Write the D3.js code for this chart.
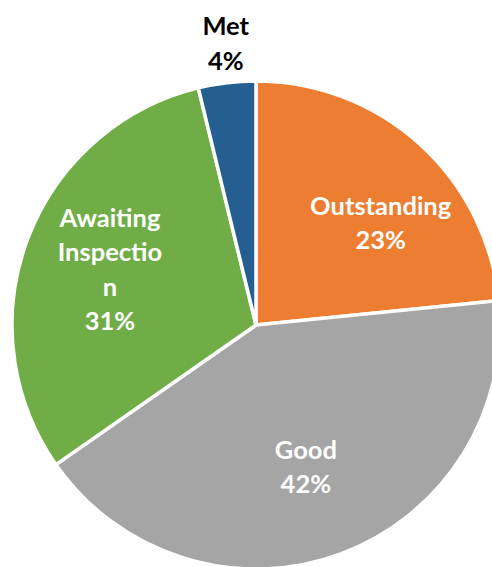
<!DOCTYPE html>
<html>
<head>
<meta charset="utf-8">
<script src="https://cdn.jsdelivr.net/npm/d3@7"></script>
<style>
  body { margin: 0; background: #fff; }
  svg { display: block; }
  text { font-family: Lato, "Open Sans", sans-serif; font-weight: bold; }
</style>
</head>
<body>
<svg width="492" height="567"></svg>
<script>
var categories = ["Outstanding", "Good", "Awaiting Inspection", "Met"];
var values = [23.4, 41.9, 30.9, 3.8];
var pctLabels = ["23%", "42%", "31%", "4%"];
var labelLines = [["Outstanding"], ["Good"], ["Awaiting", "Inspectio", "n"], ["Met"]];
var colors = ["#ED7D31", "#A5A5A5", "#70AD47", "#255E91"];

var svg = d3.select("svg"),
    cx = 256, cy = 325,
    radius = 244,
    g = svg.append("g").attr("transform", "translate(" + cx + "," + cy + ")");

var data = categories.map(function(c, i) {
  return {name: c, value: values[i], pct: pctLabels[i], lines: labelLines[i], color: colors[i]};
});

var pie = d3.pie()
    .sort(null)
    .value(function(d) { return d.value; });

var arc = d3.arc()
    .innerRadius(0)
    .outerRadius(radius);

var arcs = pie(data);

g.selectAll("path")
  .data(arcs)
  .enter().append("path")
    .attr("d", arc)
    .attr("fill", function(d) { return d.data.color; })
    .attr("stroke", "#fff")
    .attr("stroke-width", 3.5)
    .attr("stroke-linejoin", "round");

// label anchor radius (fraction of radius) and angle nudge (degrees)
var labelR = [0.66, 0.617, 0.64, 1.16];
var labelNudge = [8.6, 1, 0, 0.7];
var lineH = 34.5;

var labels = g.selectAll("text.lbl")
  .data(arcs)
  .enter().append("text")
    .attr("class", "lbl")
    .attr("text-anchor", "middle")
    .attr("font-size", 25.5)
    .attr("fill", function(d, i) { return i === 3 ? "#000" : "#fff"; })
    .attr("transform", function(d, i) {
      var a = (d.startAngle + d.endAngle) / 2 + labelNudge[i] * Math.PI / 180;
      var r = radius * labelR[i];
      return "translate(" + (Math.sin(a) * r) + "," + (-Math.cos(a) * r) + ")";
    });

labels.each(function(d) {
  var lines = d.data.lines.concat([d.data.pct]);
  var t = d3.select(this);
  var off = -(lines.length - 1) / 2 * lineH;
  lines.forEach(function(l, j) {
    t.append("tspan")
      .attr("x", 0)
      .attr("y", off + j * lineH)
      .attr("dy", "0.35em")
      .text(l);
  });
});
</script>
</body>
</html>
